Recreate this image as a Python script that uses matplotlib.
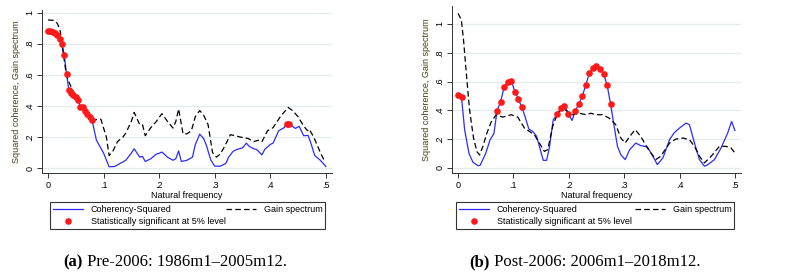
import matplotlib
matplotlib.use("Agg")
import matplotlib.pyplot as plt

# ---- panel (a): pre-2006 ----
a_coh_freq = [0.0, 0.0042, 0.0083, 0.0125, 0.0167, 0.0208, 0.025, 0.0292, 0.0333, 0.0375,
              0.0417, 0.0458, 0.05, 0.0542, 0.0583, 0.0625, 0.0667, 0.0708, 0.075, 0.0792,
              0.087, 0.1, 0.11, 0.12, 0.13, 0.14, 0.15, 0.155, 0.165, 0.17, 0.175, 0.185,
              0.195, 0.2, 0.205, 0.215, 0.225, 0.23, 0.235, 0.24, 0.25, 0.26, 0.265, 0.273,
              0.28, 0.285, 0.293, 0.3, 0.31, 0.32, 0.325, 0.333, 0.34, 0.35, 0.357, 0.362,
              0.37, 0.375, 0.385, 0.39, 0.4, 0.405, 0.415, 0.425, 0.4292, 0.4333, 0.437,
              0.445, 0.452, 0.46, 0.468, 0.473, 0.48, 0.49, 0.5]
a_coh_val = [0.884, 0.882, 0.876, 0.867, 0.855, 0.831, 0.799, 0.728, 0.606, 0.503,
             0.482, 0.471, 0.46, 0.437, 0.395, 0.39, 0.37, 0.35, 0.33, 0.31,
             0.18, 0.096, 0.008, 0.01, 0.03, 0.05, 0.096, 0.124, 0.07, 0.075, 0.042, 0.06,
             0.09, 0.095, 0.103, 0.07, 0.05, 0.06, 0.11, 0.042, 0.05, 0.07, 0.15, 0.218,
             0.19, 0.146, 0.05, 0.012, 0.012, 0.03, 0.07, 0.107, 0.12, 0.13, 0.16, 0.14,
             0.124, 0.12, 0.085, 0.12, 0.152, 0.16, 0.24, 0.26, 0.286, 0.283, 0.275,
             0.255, 0.268, 0.208, 0.21, 0.16, 0.08, 0.05, 0.01]
a_sig = list(range(20)) + [64, 65]

a_gain_freq = [0.0, 0.01, 0.017, 0.022, 0.027, 0.033, 0.038, 0.045, 0.055, 0.065, 0.075,
               0.083, 0.095, 0.105, 0.11, 0.117, 0.125, 0.135, 0.14, 0.15, 0.155, 0.165,
               0.17, 0.175, 0.185, 0.195, 0.205, 0.215, 0.225, 0.23, 0.235, 0.243, 0.25,
               0.258, 0.265, 0.273, 0.28, 0.288, 0.296, 0.303, 0.31, 0.318, 0.328, 0.335,
               0.345, 0.36, 0.37, 0.38, 0.385, 0.395, 0.405, 0.418, 0.432, 0.44, 0.45,
               0.46, 0.467, 0.47, 0.478, 0.49, 0.498]
a_gain_val = [0.953, 0.95, 0.93, 0.88, 0.75, 0.6, 0.55, 0.497, 0.43, 0.38, 0.33,
              0.31, 0.315, 0.2, 0.08, 0.11, 0.17, 0.2, 0.225, 0.3, 0.358, 0.28,
              0.28, 0.208, 0.26, 0.3, 0.35, 0.3, 0.257, 0.3, 0.38, 0.22, 0.22,
              0.24, 0.33, 0.37, 0.34, 0.28, 0.1, 0.07, 0.09, 0.14, 0.214, 0.21,
              0.2, 0.19, 0.17, 0.18, 0.17, 0.24, 0.26, 0.33, 0.39, 0.37, 0.33,
              0.27, 0.24, 0.25, 0.2, 0.1, 0.04]

# ---- panel (b): post-2006 ----
b_coh_freq = [0.0, 0.0064, 0.012, 0.02, 0.027, 0.036, 0.04, 0.05, 0.058, 0.065,
              0.0705, 0.0769, 0.0833, 0.0897, 0.0962, 0.1026, 0.109, 0.1154,
              0.12, 0.128, 0.135, 0.142, 0.147, 0.154, 0.16, 0.165, 0.172,
              0.1795, 0.1859, 0.1923, 0.1987, 0.206,
              0.2115, 0.2179, 0.2244, 0.2308, 0.2372, 0.2436, 0.25, 0.2564, 0.2628,
              0.2692, 0.2756,
              0.282, 0.288, 0.294, 0.302, 0.31, 0.321, 0.33, 0.342, 0.352, 0.36, 0.37,
              0.382, 0.39, 0.4, 0.412, 0.418, 0.427, 0.436, 0.445, 0.451, 0.463, 0.475,
              0.487, 0.494, 0.5]
b_coh_val = [0.508, 0.49, 0.265, 0.1, 0.04, 0.016, 0.018, 0.1, 0.196, 0.24,
             0.397, 0.46, 0.56, 0.598, 0.607, 0.531, 0.478, 0.42,
             0.37, 0.27, 0.254, 0.22, 0.15, 0.053, 0.053, 0.14, 0.335,
             0.376, 0.416, 0.432, 0.376, 0.33,
             0.393, 0.443, 0.497, 0.577, 0.658, 0.693, 0.711, 0.688, 0.654,
             0.577, 0.443,
             0.289, 0.15, 0.092, 0.058, 0.127, 0.173, 0.155, 0.146, 0.081, 0.023, 0.07,
             0.196, 0.243, 0.277, 0.312, 0.3, 0.173, 0.058, 0.012, 0.023, 0.058, 0.139,
             0.243, 0.323, 0.261]
b_sig = [0, 1] + list(range(10, 18)) + list(range(27, 31)) + list(range(32, 43))

b_gain_freq = [0.0, 0.006, 0.01, 0.015, 0.021, 0.028, 0.034, 0.039, 0.045, 0.052,
               0.06, 0.069, 0.081, 0.096, 0.108, 0.12, 0.129, 0.138, 0.147, 0.156,
               0.162, 0.171, 0.18, 0.189, 0.198, 0.207, 0.219, 0.231, 0.24, 0.249,
               0.261, 0.273, 0.285, 0.294, 0.302, 0.31, 0.32, 0.33, 0.342, 0.357,
               0.366, 0.382, 0.393, 0.406, 0.418, 0.427, 0.436, 0.445, 0.457, 0.472,
               0.484, 0.493, 0.5]
b_gain_val = [1.074, 1.03, 0.89, 0.66, 0.4, 0.21, 0.115, 0.09, 0.15, 0.24,
              0.32, 0.37, 0.353, 0.37, 0.353, 0.277, 0.254, 0.23, 0.173, 0.115,
              0.127, 0.289, 0.38, 0.416, 0.393, 0.37, 0.38, 0.37, 0.38, 0.37,
              0.37, 0.346, 0.3, 0.208, 0.173, 0.219, 0.266, 0.219, 0.139, 0.058,
              0.081, 0.173, 0.2, 0.208, 0.196, 0.15, 0.081, 0.035, 0.081, 0.15,
              0.15, 0.139, 0.104]

xticks = [0, 0.1, 0.2, 0.3, 0.4, 0.5]
xticklabels = ["0", ".1", ".2", ".3", ".4", ".5"]
yticks = [0, 0.2, 0.4, 0.6, 0.8, 1]
yticklabels = ["0", ".2", ".4", ".6", ".8", "1"]

captions = [("(a)", " Pre-2006: 1986m1\u20132005m12."),
            ("(b)", " Post-2006: 2006m1\u20132018m12.")]

plt.rcParams["font.family"] = ["Liberation Sans", "DejaVu Sans"]

W, H = 786, 278
fig = plt.figure(figsize=(W / 100, H / 100), dpi=100)


def px_axes(x0, y0, x1, y1):
    return fig.add_axes([x0 / W, 1 - y1 / H, (x1 - x0) / W, (y1 - y0) / H])


panels = [
    dict(box=(42, 10, 332, 173), ylim=(-0.032, 1.017), leg=(50, 202, 325, 228),
         cap=175, coh=(a_coh_freq, a_coh_val, a_sig), gain=(a_gain_freq, a_gain_val)),
    dict(box=(452, 6, 741, 173), ylim=(-0.035, 1.125), leg=(456, 202, 734, 228),
         cap=585, coh=(b_coh_freq, b_coh_val, b_sig), gain=(b_gain_freq, b_gain_val)),
]

for p, cap in zip(panels, captions):
    ax = px_axes(*p["box"])
    cf, cv, sig = p["coh"]
    gf, gv = p["gain"]
    for y in yticks:
        ax.axhline(y, color="#e4eaee", lw=0.9, zorder=0)
    l1, = ax.plot(cf, cv, color="#2b2bff", lw=0.9, zorder=2)
    l2, = ax.plot(gf, gv, color="black", lw=0.9, dashes=(4.5, 2.5), zorder=2)
    d, = ax.plot([cf[i] for i in sig], [cv[i] for i in sig], "o", color="#ff1a1a",
                 ms=4.8, mec="none", zorder=3)
    ax.set_xlim(-0.0108, 0.511)
    ax.set_ylim(*p["ylim"])
    ax.set_xticks(xticks)
    ax.set_xticklabels(xticklabels)
    ax.set_yticks(yticks)
    ax.set_yticklabels(yticklabels, rotation=90, va="center")
    ax.tick_params(labelsize=6.5, length=3.5, width=0.7, pad=2, color="#333333")
    for s in ["top", "right"]:
        ax.spines[s].set_visible(False)
    for s in ["left", "bottom"]:
        ax.spines[s].set_linewidth(0.7)
        ax.spines[s].set_color("#333333")
    ax.set_xlabel("Natural frequency", fontsize=6.5, labelpad=1)
    ax.set_ylabel("Squared coherence, Gain spectrum", fontsize=6.5, labelpad=3,
                  color="#4a3c18")

    lx0, ly0, lx1, ly1 = p["leg"]
    leg = fig.legend([l1, d, l2],
                     ["Coherency-Squared", "Statistically significant at 5% level",
                      "Gain spectrum"],
                     ncol=2, loc="upper left", mode="expand",
                     bbox_to_anchor=(lx0 / W, 1 - ly1 / H, (lx1 - lx0) / W, (ly1 - ly0) / H),
                     fontsize=6.5, frameon=True, fancybox=False, handlelength=3.4,
                     handletextpad=0.8, borderpad=0.3, labelspacing=0.35,
                     borderaxespad=0)
    leg.get_frame().set_edgecolor("black")
    leg.get_frame().set_linewidth(0.8)

    # caption: bold tag then plain text
    fig.canvas.draw()
    r = fig.canvas.get_renderer()
    t1 = fig.text(0, 1 - 262 / H, cap[0], fontsize=12, fontweight="bold",
                  family="Liberation Serif", va="center")
    t2 = fig.text(0, 1 - 262 / H, cap[1], fontsize=12,
                  family="Liberation Serif", va="center")
    w1 = t1.get_window_extent(r).width
    w2 = t2.get_window_extent(r).width
    x0 = p["cap"] - (w1 + w2) / 2
    t1.set_x(x0 / W)
    t2.set_x((x0 + w1) / W)

fig.savefig("out.png", dpi=100)
